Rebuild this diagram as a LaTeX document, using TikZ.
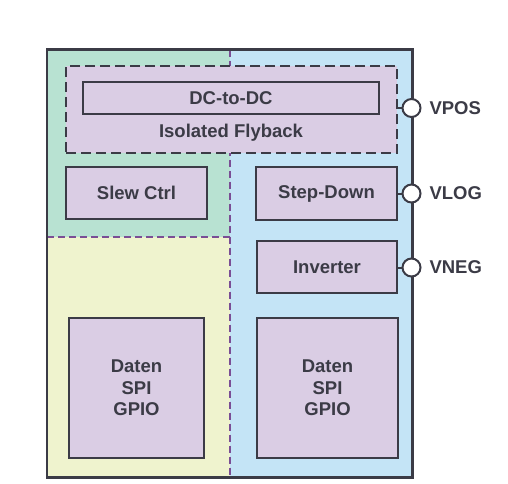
\documentclass[tikz,border=0pt]{standalone}
\usepackage{fontspec}
\setmainfont{Liberation Sans}
\usepackage{xcolor}
\usepackage{tikz}
\usetikzlibrary{positioning}

\definecolor{edgegray}{HTML}{3B3B46}
\definecolor{boxpurple}{HTML}{DACDE4}
\definecolor{zonegreen}{HTML}{B8E2D2}
\definecolor{zoneblue}{HTML}{C4E4F6}
\definecolor{zoneyellow}{HTML}{EFF3CE}
\definecolor{splitpurple}{HTML}{7A4E95}

\tikzset{
  block/.style={draw=edgegray, line width=2.2pt, fill=boxpurple, text=edgegray,
    font=\fontsize{18.5}{21.5}\selectfont\bfseries, align=center},
  pin/.style={circle, draw=edgegray, line width=2pt, fill=white, minimum size=18pt, inner sep=0pt},
  pinlabel/.style={anchor=west, text=edgegray, font=\fontsize{18.5}{20}\selectfont\bfseries},
  split/.style={draw=splitpurple, line width=2pt, dash pattern=on 7pt off 4pt},
  wire/.style={draw=edgegray, line width=2pt}
}

\begin{document}
\begin{tikzpicture}[x=1pt, y=-1pt]
        \useasboundingbox (0,0) rectangle (508,483);

        % Zones
        \fill[zonegreen] (47,49.5) rectangle (230,237);
        \fill[zoneyellow] (47,237) rectangle (230,477.5);
        \fill[zoneblue] (230,49.5) rectangle (412.5,477.5);
        \draw[split] (230,49.5) -- (230,477.5);
        \draw[split] (47,237) -- (230,237);
        \draw[draw=edgegray, line width=2.5pt] (47,49.5) rectangle (412.5,477.5);

        % Isolated flyback
        \node[block, dashed, dash pattern=on 10pt off 5pt, line width=2pt, minimum width=331pt, minimum height=87pt] (fly) at (231.5,109.5) {};
        \node[block, minimum width=296pt, minimum height=32pt] (dcdc) at (231,98) {DC-to-DC};
        \node[text=edgegray, font=\fontsize{18.5}{20}\selectfont\bfseries] (flylbl) at (231,132.5) {Isolated Flyback};

        % Blocks
        \node[block, minimum width=141pt, minimum height=52pt] (slew) at (136.5,193) {Slew Ctrl};
        \node[block, minimum width=141pt, minimum height=53pt] (stepdn) at (326.5,193.5) {Step-Down};
        \node[block, minimum width=140pt, minimum height=52pt] (inv) at (327,267) {Inverter};
        \node[block, minimum width=135pt, minimum height=140pt] (datl) at (136.5,388) {Daten\\SPI\\GPIO};
        \node[block, minimum width=141pt, minimum height=140pt] (datr) at (327.5,388) {Daten\\SPI\\GPIO};

        % Pins
        \node[pin] (vpos) at (411.5,108) {};
        \node[pin] (vlog) at (411.5,193.5) {};
        \node[pin] (vneg) at (411.5,267.5) {};
        \draw[wire] (fly.east |- vpos) -- (vpos);
        \draw[wire] (stepdn.east |- vlog) -- (vlog);
        \draw[wire] (inv.east |- vneg) -- (vneg);
        \node[pinlabel] (vposlbl) at (426,108) {VPOS};
        \node[pinlabel] (vloglbl) at (426,193.5) {VLOG};
        \node[pinlabel] (vneglbl) at (426,267.5) {VNEG};
\end{tikzpicture}
\end{document}
